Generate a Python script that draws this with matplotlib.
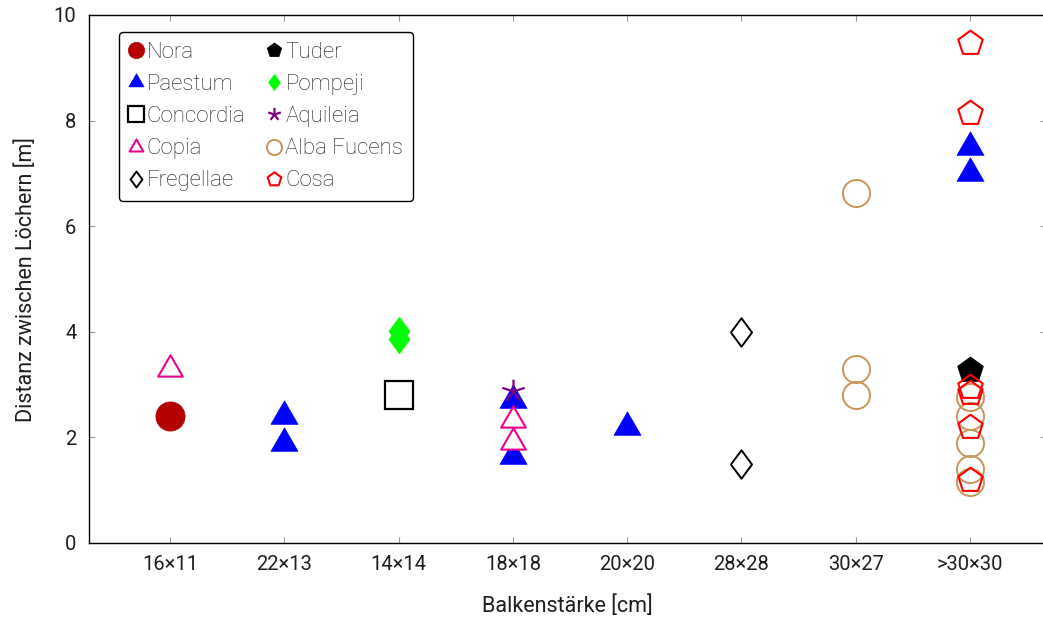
import numpy as np
import matplotlib
matplotlib.use("Agg")
import matplotlib.pyplot as plt
from matplotlib.path import Path

plt.rcParams['font.family'] = ['Roboto', 'DejaVu Sans']
plt.rcParams['font.weight'] = 'light'

categories = ["16×11", "22×13", "14×14", "18×18", "20×20", "28×28", "30×27", ">30×30"]

# (category index, value) per site
nora_x = [0];              nora_y = [2.4]
paestum_x = [1, 1, 3, 3, 4, 7, 7]
paestum_y = [2.4, 1.9, 2.7, 1.65, 2.2, 7.5, 7.0]
concordia_x = [2];         concordia_y = [2.8]
copia_x = [0, 3, 3];       copia_y = [3.3, 2.33, 1.92]
fregellae_x = [5, 5];      fregellae_y = [4.0, 1.5]
tuder_x = [7];             tuder_y = [3.27]
pompeji_x = [2, 2];        pompeji_y = [4.02, 3.87]
aquileia_x = [3];          aquileia_y = [2.88]
alba_x = [6, 6, 6, 7, 7, 7, 7, 7]
alba_y = [6.62, 3.3, 2.8, 2.77, 2.41, 1.89, 1.41, 1.15]
cosa_x = [7, 7, 7, 7, 7, 7]
cosa_y = [9.47, 8.15, 2.96, 2.84, 2.2, 1.2]

# marker shapes (centred like pgfplots marks)
ang = np.deg2rad(90 + np.arange(3) * 120)
tri = Path(np.column_stack([np.cos(ang), np.sin(ang)]).tolist() + [[0, 1]], closed=True)
ang5 = np.deg2rad(90 + np.arange(5) * 72)
pent = Path(np.column_stack([np.cos(ang5), np.sin(ang5)]).tolist() + [[0, 1]], closed=True)
diam = Path([[0, 1], [0.74, 0], [0, -1], [-0.74, 0], [0, 1]], closed=True)
star_v = []
star_c = []
for a in ang5:
    star_v += [[0, 0], [np.cos(a), np.sin(a)]]
    star_c += [Path.MOVETO, Path.LINETO]
star = Path(star_v, star_c)

fig = plt.figure(figsize=(10.43, 6.19), dpi=100)
ax = fig.add_axes([89 / 1043, 1 - 543 / 619, (1046 - 89) / 1043, (543 - 15) / 619])

C_NORA = '#b30000'
C_BLUE = '#0000ff'
C_COPIA = '#ec008c'
C_GREEN = '#00ff00'
C_PURPLE = '#800080'
C_ALBA = '#c8965a'
C_RED = '#ff0000'
TXT = '#1e1e1e'

h = {}
h['Nora'], = ax.plot(nora_x, nora_y, ls='none', marker='o', ms=21, mfc=C_NORA, mec=C_NORA, mew=0.5)
h['Paestum'], = ax.plot(paestum_x, paestum_y, ls='none', marker=tri, ms=22.5, mfc=C_BLUE, mec=C_BLUE, mew=0.5)
h['Concordia'], = ax.plot(concordia_x, concordia_y, ls='none', marker='s', ms=19.5, mfc='white', mec='black', mew=1.6)
h['Pompeji'], = ax.plot(pompeji_x, pompeji_y, ls='none', marker=diam, ms=20.5, mfc=C_GREEN, mec=C_GREEN, mew=0.5)
h['Tuder'], = ax.plot(tuder_x, tuder_y, ls='none', marker=pent, ms=19.5, mfc='black', mec='black', mew=0.5)
h['Aquileia'], = ax.plot(aquileia_x, aquileia_y, ls='none', marker=star, ms=17, mfc='none', mec=C_PURPLE, mew=1.6)
h['Copia'], = ax.plot(copia_x, copia_y, ls='none', marker=tri, ms=20.5, mfc='white', mec=C_COPIA, mew=1.5)
h['Fregellae'], = ax.plot(fregellae_x, fregellae_y, ls='none', marker=diam, ms=20.5, mfc='white', mec='black', mew=1.4)
h['Alba Fucens'], = ax.plot(alba_x, alba_y, ls='none', marker='o', ms=19.5, mfc='none', mec=C_ALBA, mew=1.4)
h['Cosa'], = ax.plot(cosa_x, cosa_y, ls='none', marker=pent, ms=18.5, mfc='none', mec=C_RED, mew=1.5)

ax.set_xlim(-0.709, 7.665)
ax.set_ylim(0, 10)
ax.set_xticks(range(len(categories)))
ax.set_xticklabels(categories)
ax.set_yticks([0, 2, 4, 6, 8, 10])
ax.tick_params(direction='in', length=4, width=0.8, color='#999999', top=True, right=True,
               labelsize=14.5)
ax.tick_params(axis='x', pad=9)
ax.tick_params(axis='y', pad=9)
for lab in ax.get_xticklabels() + ax.get_yticklabels():
    lab.set_color(TXT)
    lab.set_fontweight('normal')
for s in ax.spines.values():
    s.set_linewidth(1.0)
    s.set_color('black')

ax.set_xlabel('Balkenstärke [cm]', fontsize=15.5, color=TXT, labelpad=15)
ax.set_ylabel('Distanz zwischen Löchern [m]', fontsize=15.5, color=TXT, labelpad=12)

order = ['Nora', 'Paestum', 'Concordia', 'Copia', 'Fregellae',
         'Tuder', 'Pompeji', 'Aquileia', 'Alba Fucens', 'Cosa']
leg = ax.legend([h[k] for k in order], order, ncol=2, loc='upper left',
                bbox_to_anchor=(119 / 1043, 1 - 32 / 619), bbox_transform=fig.transFigure,
                markerscale=0.56, fontsize=16, frameon=True, fancybox=True,
                handlelength=0.6, handletextpad=0.2, columnspacing=1.0,
                labelspacing=0.5, borderpad=0.45, borderaxespad=0)
leg.get_frame().set_edgecolor('black')
leg.get_frame().set_linewidth(1.0)
leg.get_frame().set_alpha(1)
for t in leg.get_texts():
    t.set_color(TXT)

fig.savefig('out.png', dpi=100)
